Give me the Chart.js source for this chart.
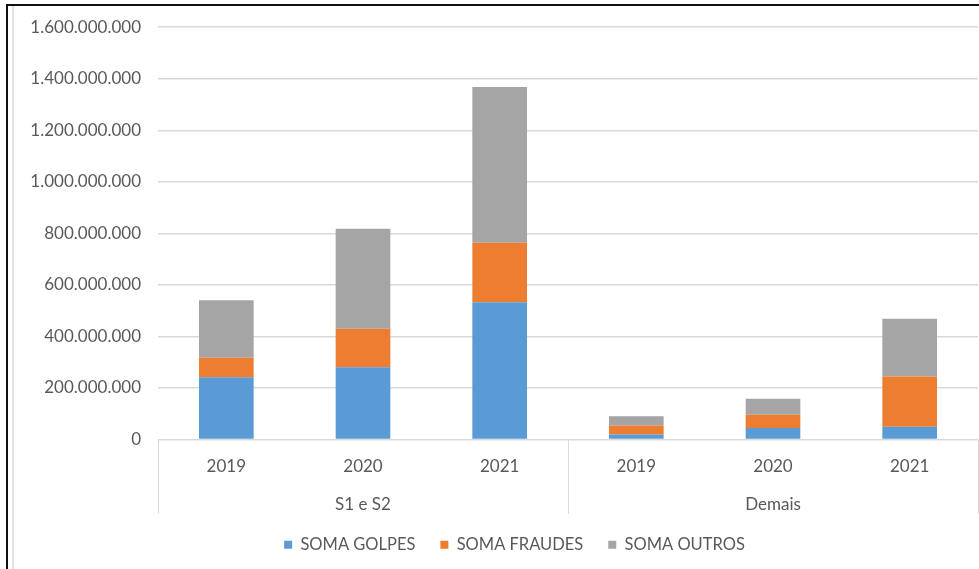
<!DOCTYPE html>
<html>
<head>
<meta charset="utf-8">
<script src="https://cdn.jsdelivr.net/npm/chart.js@4.4.1/dist/chart.umd.min.js"></script>
<style>
  html, body { margin: 0; padding: 0; background: #fff; }
  #wrap { position: relative; width: 979px; height: 569px; overflow: hidden; }
  #frame { position: absolute; left: 6px; top: 4px; width: 1100px; height: 600px;
           border-left: 2px solid #111; border-top: 2px solid #111; pointer-events: none; }
  #inner { position: absolute; left: 12px; top: 6px; width: 2px; height: 600px;
           background: #e3e3e3; pointer-events: none; }
  canvas { position: absolute; left: 0; top: 0; }
</style>
</head>
<body>
<div id="wrap">
  <canvas id="chart" width="979" height="569"></canvas>
  <div id="inner"></div>
  <div id="frame"></div>
</div>
<script>
// Years shown in each group, and the two groups of institutions
const years = ['2019', '2020', '2021'];
const groups = ['S1 e S2', 'Demais'];

// Stacked amounts (R$) per bar: S1 e S2 2019-2021, then Demais 2019-2021
const somaGolpes  = [242000000, 280000000, 533000000, 19000000, 45000000, 49000000];
const somaFraudes = [75000000, 150000000, 231000000, 35000000, 51000000, 195000000];
const somaOutros  = [223000000, 388000000, 604000000, 36000000, 62000000, 225000000];

const seriesNames = ['SOMA GOLPES', 'SOMA FRAUDES', 'SOMA OUTROS'];
const seriesColors = ['#5B9BD5', '#ED7D31', '#A5A5A5'];

// Y-axis ticks
const yTicks = [0, 200000000, 400000000, 600000000, 800000000, 1000000000, 1200000000, 1400000000, 1600000000];

// Two-line category labels: year on top, group name under the middle year
const labels = [];
groups.forEach(g => {
  years.forEach((y, i) => {
    labels.push([y, i === Math.floor(years.length / 2) ? g : '']);
  });
});

const textColor = '#595959';
const gridColor = '#d9d9d9';
const font = { family: 'Lato', size: 17 };

function fmt(v) {
  return String(Math.round(v)).replace(/\B(?=(\d{3})+(?!\d))/g, '.');
}

// Vertical separators between groups, below the category axis
const groupSeparators = {
  id: 'groupSeparators',
  afterDraw(chart) {
    const x = chart.scales.x;
    const ctx = chart.ctx;
    ctx.save();
    ctx.strokeStyle = gridColor;
    ctx.lineWidth = 1;
    for (let g = 0; g <= groups.length; g++) {
      const px = Math.round(x.getPixelForValue(g * years.length - 0.5)) + 0.5;
      ctx.beginPath();
      ctx.moveTo(px, x.top);
      ctx.lineTo(px, x.top + 74);
      ctx.stroke();
    }
    ctx.restore();
  }
};

// Centre the legend a little to the right of the canvas centre
const legendOffset = {
  id: 'legendOffset',
  afterLayout(chart) {
    const l = chart.legend;
    if (l) {
      l.left += 51;
      l.width = l.right - l.left;
    }
  }
};

new Chart(document.getElementById('chart'), {
  type: 'bar',
  data: {
    labels: labels,
    datasets: [somaGolpes, somaFraudes, somaOutros].map((d, i) => ({
      label: seriesNames[i],
      data: d,
      backgroundColor: seriesColors[i],
      borderWidth: 0,
      categoryPercentage: 0.4,
      barPercentage: 1
    }))
  },
  options: {
    responsive: false,
    animation: false,
    events: [],
    layout: { padding: { top: 25, right: 1, left: 0, bottom: 6 } },
    plugins: {
      tooltip: { enabled: false },
      legend: {
        position: 'bottom',
        labels: {
          font: { family: 'Lato', size: 16.5 },
          color: textColor,
          boxWidth: 8,
          boxHeight: 8,
          padding: 25
        }
      }
    },
    scales: {
      x: {
        stacked: true,
        grid: { display: false },
        border: { display: false },
        ticks: {
          font: { family: 'Lato', size: 17, lineHeight: 2.235 },
          color: textColor,
          padding: 0,
          maxRotation: 0,
          autoSkip: false
        },
        afterFit(scale) { scale.height = 72; }
      },
      y: {
        stacked: true,
        min: 0,
        max: 1600000000,
        afterBuildTicks(scale) { scale.ticks = yTicks.map(v => ({ value: v })); },
        grid: { color: gridColor, lineWidth: 1.5, drawTicks: false },
        border: { display: false },
        ticks: {
          font: font,
          color: textColor,
          padding: 17,
          callback: v => fmt(v)
        },
        afterFit(scale) { scale.width = 158; }
      }
    }
  },
  plugins: [groupSeparators, legendOffset]
});
</script>
</body>
</html>
